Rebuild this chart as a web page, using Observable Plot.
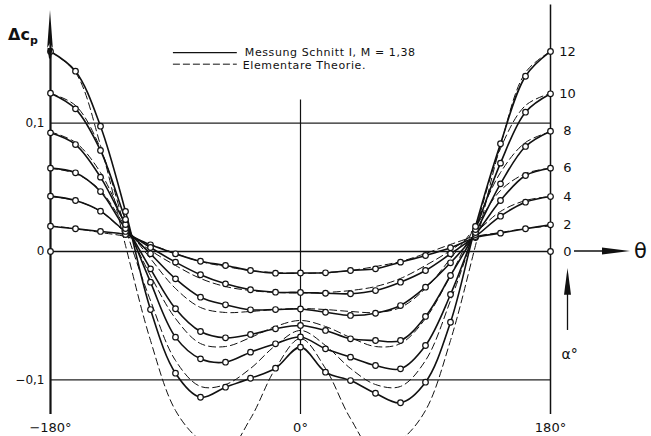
<!DOCTYPE html>
<html><head><meta charset="utf-8">
<script src="https://cdn.jsdelivr.net/npm/d3@7"></script>
<script src="https://cdn.jsdelivr.net/npm/@observablehq/plot@0.6"></script>
<style>
html,body{margin:0;padding:0;background:#fff;}
#chart svg{overflow:hidden;display:block;}
</style></head><body><div id="chart"></div>
<script>
// θ positions (degrees) of the measured points
const thetaDeg = [-180,-162,-144,-126,-108,-90,-72,-54,-36,-18,0,18,36,54,72,90,108,126,144,162,180];
// angle of attack of each curve (α°)
const alphaList = [2,4,6,8,10,12];
// measured Δcp ("Messung Schnitt I, M = 1,38")
const mess2  = [0.0197,0.0177,0.0156,0.0132,0.0052,-0.0018,-0.0076,-0.0109,-0.0148,-0.0169,-0.0167,-0.0166,-0.0148,-0.0135,-0.0083,-0.0031,0.0029,0.0109,0.0143,0.0177,0.0208];
const mess4  = [0.0431,0.0397,0.0314,0.0156,0.0031,-0.0083,-0.0181,-0.0252,-0.0298,-0.0317,-0.0319,-0.0325,-0.0329,-0.0304,-0.0239,-0.0148,-0.0018,0.0117,0.0275,0.0384,0.0428];
const mess6  = [0.0649,0.0613,0.0467,0.0179,-0.0018,-0.0213,-0.0356,-0.0415,-0.0454,-0.0452,-0.0448,-0.0473,-0.0498,-0.0481,-0.0421,-0.0278,-0.0088,0.0132,0.0397,0.0592,0.0649];
const mess8  = [0.0924,0.0833,0.0579,0.0210,-0.0135,-0.0446,-0.0623,-0.0672,-0.0646,-0.0602,-0.0576,-0.0615,-0.0680,-0.0693,-0.0693,-0.0506,-0.0187,0.0148,0.0527,0.0818,0.0937];
const mess10 = [0.1233,0.1111,0.0787,0.0249,-0.0239,-0.0667,-0.0836,-0.0862,-0.0784,-0.0719,-0.0666,-0.0758,-0.0823,-0.0888,-0.0914,-0.0732,-0.0335,0.0171,0.0688,0.1085,0.1228];
const mess12 = [0.1558,0.1404,0.0976,0.0312,-0.0452,-0.0948,-0.1135,-0.1057,-0.0987,-0.0909,-0.0745,-0.0940,-0.1005,-0.1104,-0.1178,-0.1018,-0.0551,0.0195,0.0839,0.1365,0.1558];
// α = 0: only the two end points on the axis
const mess0Theta = [-180,180];
const mess0 = [0,0];
// elementary theory ("Elementare Theorie.")
const theo2  = [0.0199,0.0179,0.0148,0.0117,0.0055,-0.0016,-0.0078,-0.0117,-0.0148,-0.0164,-0.0171,-0.0164,-0.0148,-0.0117,-0.0078,-0.0016,0.0055,0.0117,0.0148,0.0179,0.0199];
const theo4  = [0.0428,0.0397,0.0312,0.0148,0.0008,-0.0109,-0.0210,-0.0273,-0.0304,-0.0319,-0.0323,-0.0319,-0.0304,-0.0273,-0.0210,-0.0109,0.0008,0.0148,0.0312,0.0397,0.0428];
const theo6  = [0.0649,0.0607,0.0475,0.0195,-0.0055,-0.0288,-0.0436,-0.0475,-0.0467,-0.0452,-0.0444,-0.0452,-0.0467,-0.0475,-0.0436,-0.0288,-0.0055,0.0195,0.0475,0.0607,0.0649];
const theo8  = [0.0931,0.0849,0.0615,0.0210,-0.0187,-0.0522,-0.0717,-0.0740,-0.0670,-0.0584,-0.0537,-0.0584,-0.0670,-0.0740,-0.0717,-0.0522,-0.0187,0.0210,0.0615,0.0849,0.0931];
const theo10 = [0.1231,0.1137,0.0802,0.0179,-0.0382,-0.0849,-0.1051,-0.1036,-0.0911,-0.0732,-0.0615,-0.0732,-0.0911,-0.1036,-0.1051,-0.0849,-0.0382,0.0179,0.0802,0.1137,0.1231];
const theo12 = [0.1558,0.1394,0.0826,0.0047,-0.0693,-0.1238,-0.1472,-0.1565,-0.1301,-0.0911,-0.0678,-0.0911,-0.1301,-0.1565,-0.1472,-0.1238,-0.0693,0.0047,0.0826,0.1394,0.1558];
// axis tick labels
const yTickValues = [0.1, 0, -0.1];
const yTickLabels = ["0,1", "0", "\u22120,1"];
const xTickValues = [-180, 0, 180];
const xTickLabels = ["\u2212180\u00b0", "0\u00b0", "180\u00b0"];
const alphaLabelValues = [0,2,4,6,8,10,12];
const legendLabels = ["Messung Schnitt I, M = 1,38", "Elementare Theorie."];

const messSeries = [mess2,mess4,mess6,mess8,mess10,mess12];
const theoSeries = [theo2,theo4,theo6,theo8,theo10,theo12];
const messRows = [], theoRows = [];
alphaList.forEach((a,k)=>{
  thetaDeg.forEach((t,i)=>{
    messRows.push({alpha:a, theta:t, v:messSeries[k][i]});
    theoRows.push({alpha:a, theta:t, v:theoSeries[k][i]});
  });
});
const zeroRows = mess0Theta.map((t,i)=>({theta:t, v:mess0[i]}));
// right-hand α labels placed at the measured end value of each curve
const alphaEnd = alphaLabelValues.map(a => a === 0 ? 0 : messSeries[alphaList.indexOf(a)][20]);

const W = 651, H = 436;
const FONT = "DejaVu Sans";

const plot = Plot.plot({
  width: W, height: H,
  marginLeft: 50, marginRight: 101, marginTop: 0, marginBottom: 0,
  x: {domain: [-180, 180], axis: null},
  y: {domain: [-0.14408, 0.19548], axis: null},
  style: {fontFamily: FONT, fontSize: "12px", color: "#111", background: "#fff", overflow: "hidden"},
  marks: [
    // frame lines
    Plot.ruleY([0.1, -0.1], {x1: -180, x2: 180, stroke: "#222", strokeWidth: 1.1}),
    Plot.ruleY([0], {x1: -180, x2: 180, stroke: "#111", strokeWidth: 1.7}),
    Plot.ruleX([-180], {y1: -0.127, y2: 0.165, stroke: "#111", strokeWidth: 2.2}),
    Plot.ruleX([180], {y1: -0.127, y2: 0.192, stroke: "#111", strokeWidth: 1.5}),
    Plot.ruleX([0], {y1: -0.127, y2: 0.118, stroke: "#111", strokeWidth: 1.2}),
    // theory curves (dashed)
    Plot.line(theoRows, {x: "theta", y: "v", z: "alpha", curve: "catmull-rom", stroke: "#111", strokeWidth: 1, strokeDasharray: "7,4"}),
    // measured curves (solid + circles)
    Plot.line(messRows, {x: "theta", y: "v", z: "alpha", curve: "catmull-rom", stroke: "#111", strokeWidth: 1.6}),
    Plot.dot(messRows, {x: "theta", y: "v", r: 2.8, fill: "white", stroke: "#111", strokeWidth: 1.2}),
    Plot.dot(zeroRows, {x: "theta", y: "v", r: 2.8, fill: "white", stroke: "#111", strokeWidth: 1.2}),
    // y tick labels
    Plot.text(yTickValues, {x: -180, y: d => d, text: (d,i) => yTickLabels[i], dx: -6, textAnchor: "end", fontSize: 12}),
    // x tick labels
    Plot.text(xTickValues, {x: d => d, y: -0.1375, text: (d,i) => xTickLabels[i], fontSize: 13}),
    // α labels on the right
    Plot.text(alphaLabelValues, {x: 180, y: (d,i) => alphaEnd[i], text: d => String(d), dx: 17, fontSize: 13}),
  ]
});
document.getElementById("chart").appendChild(plot);

// decorations drawn with the plot's own scales
const sx = plot.scale("x"), sy = plot.scale("y");
const X = v => sx.apply(v), Y = v => sy.apply(v);
const svg = d3.select(plot);
const g = svg.append("g").attr("font-family", FONT).attr("fill", "#111").attr("text-anchor", "start");
// left axis arrow
const xl = X(-180);
g.append("path").attr("d", `M${xl},${Y(0.1877)} L${xl+2.8},${Y(0.158)} L${xl},${Y(0.162)} L${xl-2.8},${Y(0.158)} Z`);
g.append("path").attr("d", `M${xl-2.5},${Y(0.158)} L${xl+2.5},${Y(0.158)} L${xl+1},${Y(0.150)} L${xl-1},${Y(0.150)} Z`);
// Δc_p label
const lab = g.append("text").attr("x", xl - 42).attr("y", Y(0.164)).attr("font-size", 16).attr("font-weight", "bold");
lab.append("tspan").text("\u0394c");
lab.append("tspan").attr("font-size", 11).attr("dy", 4).text("p");
// θ arrow on the zero line
const xr = X(180), y0 = Y(0);
g.append("line").attr("x1", xr + 24).attr("x2", xr + 60).attr("y1", y0).attr("y2", y0).attr("stroke", "#111").attr("stroke-width", 1.6);
g.append("path").attr("d", `M${xr+80},${y0} L${xr+52},${y0-3.5} L${xr+52},${y0+3.5} Z`);
g.append("text").attr("x", xr + 84).attr("y", y0 + 7).attr("font-size", 21).text("\u03b8");
// α arrow
const xa = xr + 17.5;
g.append("line").attr("x1", xa).attr("x2", xa).attr("y1", Y(-0.0615)).attr("y2", Y(-0.030)).attr("stroke", "#111").attr("stroke-width", 1.3);
g.append("path").attr("d", `M${xa},${Y(-0.0132)} L${xa-3.5},${Y(-0.034)} L${xa+3.5},${Y(-0.034)} Z`);
g.append("text").attr("x", xa - 6).attr("y", Y(-0.084)).attr("font-size", 14).text("\u03b1\u00b0");
// legend
const lx1 = X(-91.5), lx2 = X(-45.5);
const ly1 = Y(0.1545), ly2 = Y(0.1455);
g.append("line").attr("x1", lx1).attr("x2", lx2).attr("y1", ly1).attr("y2", ly1).attr("stroke", "#111").attr("stroke-width", 1.4);
g.append("line").attr("x1", lx1).attr("x2", lx2).attr("y1", ly2).attr("y2", ly2).attr("stroke", "#111").attr("stroke-width", 1).attr("stroke-dasharray", "7,3");
g.append("text").attr("x", lx2 + 8).attr("y", ly1 + 3.5).attr("font-size", 11).attr("letter-spacing", 0.6).text(legendLabels[0]);
g.append("text").attr("x", lx2 + 6).attr("y", ly2 + 4.5).attr("font-size", 11).attr("letter-spacing", 0.6).text(legendLabels[1]);
</script></body></html>
